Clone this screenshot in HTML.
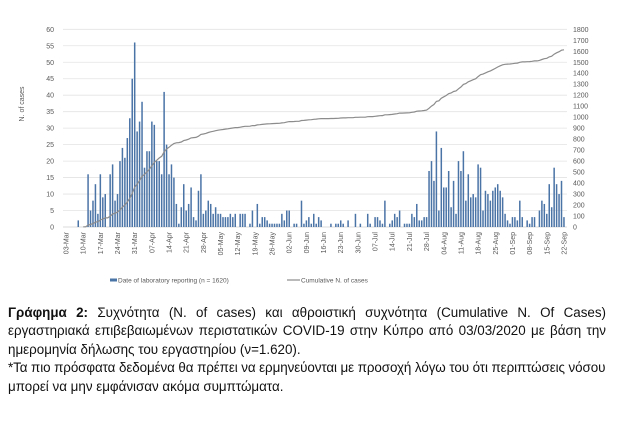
<!DOCTYPE html>
<html><head><meta charset="utf-8">
<style>
body{margin:0;width:620px;height:432px;background:#fff;overflow:hidden;font-family:"Liberation Sans",sans-serif}
#cap{position:absolute;left:8px;top:304px;width:598px;font-size:13.4px;line-height:18.4px;color:#111}
#cap div{white-space:nowrap}
#cap .j{text-align:justify;text-align-last:justify;white-space:normal}
</style></head><body>
<svg id="chart" width="620" height="300" style="position:absolute;left:0;top:0" font-family="Liberation Sans, sans-serif"></svg>
<div id="cap">
<div class="j"><b>Γράφημα 2:</b> Συχνότητα (N. of cases) και αθροιστική συχνότητα (Cumulative N. Of Cases)</div>
<div class="j">εργαστηριακά επιβεβαιωμένων περιστατικών COVID-19 στην Κύπρο από 03/03/2020 με βάση την</div>
<div>ημερομηνία δήλωσης του εργαστηρίου (ν=1.620).</div>
<div style="letter-spacing:-0.08px">*Τα πιο πρόσφατα δεδομένα θα πρέπει να ερμηνεύονται με προσοχή λόγω του ότι περιπτώσεις νόσου</div>
<div>μπορεί να μην εμφάνισαν ακόμα συμπτώματα.</div>
</div>
<script>
const daily=[0,0,0,0,0,2,0,0,0,16,5,8,13,4,16,9,10,0,16,19,8,10,20,24,21,27,33,45,56,29,32,38,18,23,23,32,31,20,20,16,41,25,16,19,15,7,1,6,13,5,7,12,3,2,11,16,4,5,8,7,4,6,4,4,3,3,3,4,3,4,0,4,4,4,0,1,5,0,7,1,3,3,2,1,1,1,1,1,4,2,5,5,0,1,1,0,8,1,2,3,1,4,1,3,2,0,0,0,1,0,1,1,2,1,0,2,0,0,4,0,1,0,0,4,1,0,3,3,2,1,8,0,1,2,4,3,5,0,1,1,1,4,3,7,2,2,3,3,17,20,14,29,5,24,12,12,17,6,14,4,20,17,23,8,16,9,10,9,19,18,5,11,10,8,11,12,13,11,9,4,2,1,3,3,2,8,3,0,2,1,3,3,0,5,8,7,4,13,6,18,13,10,14,3];
const dateLabels=["03-Mar","10-Mar","17-Mar","24-Mar","31-Mar","07-Apr","14-Apr","21-Apr","28-Apr","05-May","12-May","19-May","26-May","02-Jun","09-Jun","16-Jun","23-Jun","30-Jun","07-Jul","14-Jul","21-Jul","28-Jul","04-Aug","11-Aug","18-Aug","25-Aug","01-Sep","08-Sep","15-Sep","22-Sep"];
const leftTicks=[0,5,10,15,20,25,30,35,40,45,50,55,60];
const rightTicks=[0,100,200,300,400,500,600,700,800,900,1000,1100,1200,1300,1400,1500,1600,1700,1800];
const NS="http://www.w3.org/2000/svg";
const svg=document.getElementById('chart');
const X0=66,DX=2.453,Y0=227,YT=29.3;
const xs=i=>X0+i*DX;
const yl=v=>Y0-(Y0-YT)*v/60;
const yr=v=>Y0-(Y0-YT)*v/1800;
function mk(t,a,txt){const e=document.createElementNS(NS,t);for(const k in a)e.setAttribute(k,a[k]);if(txt!=null)e.textContent=txt;svg.appendChild(e);return e;}
leftTicks.forEach(v=>{
 const g=mk('line',{x1:63,x2:567,y1:yl(v),y2:yl(v),stroke:v?'#e3e3e3':'#cfcfcf','stroke-width':0.8});
 
 
 const t=mk('text',{x:54,y:yl(v)+2.5,'font-size':7,fill:'#595959','text-anchor':'end'},v);
 
 
});
rightTicks.forEach(v=>{
 const t=mk('text',{x:573,y:yr(v)+2.5,'font-size':7,fill:'#595959'},v);
 
 
});
dateLabels.forEach((d,k)=>{
 const x=xs(k*7);
 const t=mk('text',{x:0,y:0,'font-size':7,fill:'#595959','text-anchor':'end',transform:`translate(${x+2.5},232) rotate(-90)`},d);
 
 
});
const yt=mk('text',{x:0,y:0,'font-size':7,fill:'#595959','text-anchor':'middle',transform:'translate(24,104) rotate(-90)'},'N. of cases');


daily.forEach((v,i)=>{
 if(!v)return;
 const b=mk('rect',{x:xs(i)-0.75,y:yl(v),width:1.5,height:Y0-yl(v),fill:'#4a73a6'});
 
 
});
let c=0,pts=[];
daily.forEach((v,i)=>{c+=v;if(i>=7)pts.push(xs(i).toFixed(1)+','+yr(c).toFixed(1));});
const pl=mk('polyline',{points:pts.join(' '),fill:'none',stroke:'#8c8c8c','stroke-width':1.2});


const lb=mk('rect',{x:110,y:278.5,width:7,height:3,fill:'#4a73a6'});


const lt=mk('text',{x:118,y:282.5,'font-size':6.5,fill:'#595959'},'Date of laboratory reporting (n = 1620)');


const ll=mk('line',{x1:287,x2:300,y1:280,y2:280,stroke:'#8c8c8c','stroke-width':1.2});


const lt2=mk('text',{x:301,y:282.5,'font-size':6.5,fill:'#595959'},'Cumulative N. of cases');


</script>
</body></html>
